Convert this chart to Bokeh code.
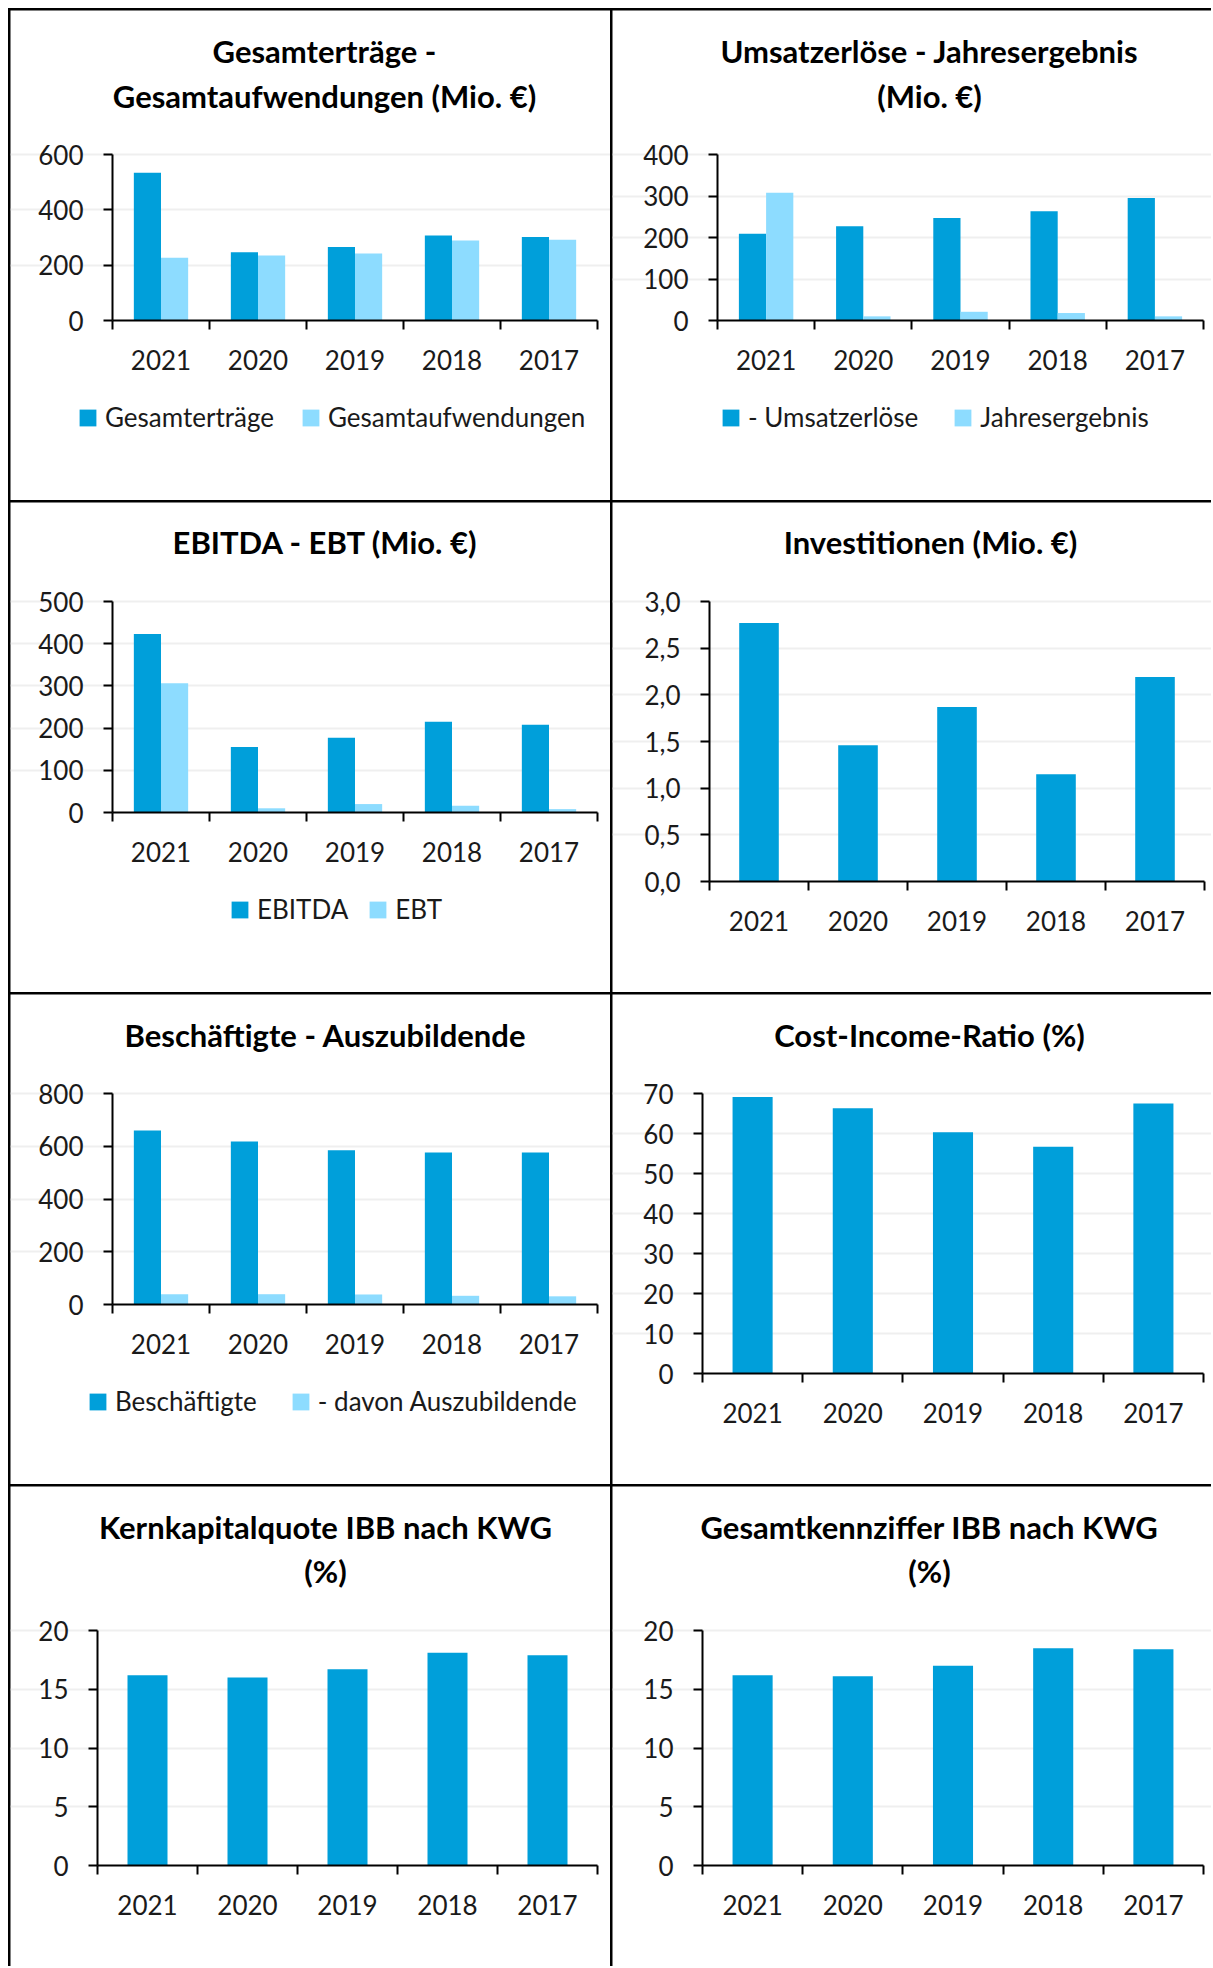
from bokeh.plotting import figure
from bokeh.models import (Range1d, LinearAxis, FixedTicker, Legend, LegendItem, Label, Grid,
                          CustomJSTickFormatter, Spacer, Row, Column, ColumnDataSource)
from bokeh.transform import dodge
from bokeh.embed import file_html
from bokeh.resources import INLINE

# ---------------- data ----------------
years = ["2021", "2020", "2019", "2018", "2017"]

gesamtertraege = [534, 247, 266, 307, 302]
gesamtaufwendungen = [227, 235, 242, 289, 292]

umsatzerloese = [209, 227, 247, 263, 295]
jahresergebnis = [308, 10, 21, 18, 10]

ebitda = [423, 155, 177, 215, 208]
ebt = [306, 10, 20, 16, 8]

investitionen = [2.77, 1.46, 1.87, 1.15, 2.19]

beschaeftigte = [660, 618, 585, 576, 576]
auszubildende = [39, 39, 38, 33, 31]

cost_income_ratio = [69.1, 66.3, 60.3, 56.7, 67.5]

kernkapitalquote = [16.2, 16.0, 16.7, 18.1, 17.9]
gesamtkennziffer = [16.2, 16.1, 17.0, 18.5, 18.4]

ticks_ertraege = [0, 200, 400, 600]
ticks_umsatz = [0, 100, 200, 300, 400]
ticks_ebitda = [0, 100, 200, 300, 400, 500]
ticks_invest = [0, 0.5, 1.0, 1.5, 2.0, 2.5, 3.0]
ticks_besch = [0, 200, 400, 600, 800]
ticks_cir = [0, 10, 20, 30, 40, 50, 60, 70]
ticks_quote = [0, 5, 10, 15, 20]

# ---------------- style ----------------
DARK = "#009FDA"
LIGHT = "#8DDCFF"
FONT = "Lato"
TXT = "#1a1a1a"
TICK_FS = "26px"
LEG_FS = "26px"
TITLE_FS = "31px"

N = len(years)
slot_centers = [i + 0.5 for i in range(N)]      # category slot centres on the x scale
slot_edges = [i for i in range(N + 1)]           # category boundaries (tick marks)


def make_chart(width, height, box, title_lines, title_cx, title_ys, series, yticks,
               legend_spec=None, decimal=False):
    """box = (left, right, top, zero) pixel layout of the plotting area inside the cell."""
    left, right, top, zero = box
    ymax = yticks[-1]
    sx = (right - left) / float(N)
    sy = (zero - top) / float(ymax)
    xr = Range1d(-left / sx, N + (width - right) / sx)
    yr = Range1d(-(height - zero) / sy, ymax + top / sy)

    p = figure(width=width, height=height, x_range=xr, y_range=yr,
               x_axis_location=None, y_axis_location=None,
               output_backend="svg", toolbar_location=None, min_border=0)
    p.outline_line_color = None
    p.background_fill_color = "white"
    p.border_fill_color = "white"
    p.xgrid.visible = False
    p.ygrid.visible = False

    # horizontal grid lines
    grid = Grid(dimension=1, ticker=FixedTicker(ticks=yticks[1:]), bounds=(0, N),
                grid_line_color="#EFEFEF", grid_line_width=2)
    p.add_layout(grid, "center")

    # y axis
    yax = LinearAxis(fixed_location=0, bounds=(0, ymax), ticker=FixedTicker(ticks=yticks))
    yax.minor_tick_line_color = None
    yax.major_tick_out = 9
    yax.major_tick_in = 0
    yax.major_tick_line_width = 2
    yax.major_tick_line_color = "black"
    yax.axis_line_width = 2
    yax.axis_line_color = "black"
    yax.major_label_standoff = 20
    yax.major_label_text_font = FONT
    yax.major_label_text_font_size = TICK_FS
    yax.major_label_text_color = TXT
    if decimal:
        yax.formatter = CustomJSTickFormatter(code="return tick.toFixed(1).replace('.', ',');")
    p.add_layout(yax, "left")

    # x axis: labels at slot centres, tick marks (minor ticks) at slot boundaries
    xax = LinearAxis(fixed_location=0, bounds=(0, N),
                     ticker=FixedTicker(ticks=slot_centers, minor_ticks=slot_edges),
                     formatter=CustomJSTickFormatter(args=dict(labels=years),
                                                     code="return labels[Math.floor(tick)];"))
    xax.axis_line_width = 2
    xax.axis_line_color = "black"
    xax.major_tick_line_color = None
    xax.major_tick_out = 9
    xax.major_tick_in = 0
    xax.minor_tick_out = 9
    xax.minor_tick_in = 0
    xax.minor_tick_line_width = 2
    xax.minor_tick_line_color = "black"
    xax.major_label_standoff = 20
    xax.major_label_text_font = FONT
    xax.major_label_text_font_size = TICK_FS
    xax.major_label_text_color = TXT
    p.add_layout(xax, "below")

    # bars
    data = {"pos": slot_centers, "year": years}
    for i, (vals, _lab) in enumerate(series):
        data["s%d" % i] = vals
    src = ColumnDataSource(data)
    renderers = []
    if len(series) == 2:
        w = 0.28
        offs = [-0.14, 0.14]
        cols = [DARK, LIGHT]
    else:
        w = 0.4
        offs = [0.0]
        cols = [DARK]
    for i, (vals, lab) in enumerate(series):
        r = p.vbar(x=dodge("pos", offs[i]), top="s%d" % i, width=w,
                   bottom=0, source=src, fill_color=cols[i], line_color=None)
        renderers.append((lab, r))

    # title
    for line, ty in zip(title_lines, title_ys):
        p.add_layout(Label(x=(title_cx - left) / sx, y=ymax + (top - ty) / sy,
                           text=line, text_align="center", text_baseline="middle",
                           text_font=FONT, text_font_style="bold", text_font_size=TITLE_FS,
                           text_color="black"))

    # legend
    if legend_spec is not None:
        lx, lspacing = legend_spec
        row_h = 31
        ly = height - (407.5 + row_h / 2.0)
        leg = Legend(items=[LegendItem(label=lab, renderers=[r]) for lab, r in renderers],
                     orientation="horizontal", location=(lx, ly),
                     glyph_width=21, glyph_height=21, label_standoff=7,
                     spacing=int(lspacing), padding=0, margin=0,
                     border_line_color=None, background_fill_alpha=0,
                     label_text_font=FONT, label_text_font_size=LEG_FS,
                     label_text_color=TXT, label_height=row_h)
        p.add_layout(leg, "center")
    return p


WL, WR = 600, 599
H1, H4 = 490, 480

c1 = make_chart(WL, H1, (102, 587, 144, 310), ["Gesamterträge -", "Gesamtaufwendungen (Mio. €)"],
                314, [40, 85.3],
                [(gesamtertraege, "Gesamterträge"), (gesamtaufwendungen, "Gesamtaufwendungen")],
                ticks_ertraege, legend_spec=(67, 26))
c2 = make_chart(WR, H1, (105, 591, 144, 310), ["Umsatzerlöse - Jahresergebnis", "(Mio. €)"],
                317, [40, 85.3],
                [(umsatzerloese, "- Umsatzerlöse"), (jahresergebnis, "Jahresergebnis")],
                ticks_umsatz, legend_spec=(108, 34))
c3 = make_chart(WL, H1, (102, 587, 99, 310), ["EBITDA - EBT (Mio. €)"], 315, [39.1],
                [(ebitda, "EBITDA"), (ebt, "EBT")], ticks_ebitda, legend_spec=(219, 19))
c4 = make_chart(WR, H1, (97, 592, 99, 379), ["Investitionen (Mio. €)"], 318, [39.1],
                [(investitionen, "Investitionen")], ticks_invest, decimal=True)
c5 = make_chart(WL, H1, (102, 587, 99, 310), ["Beschäftigte - Auszubildende"], 315, [40.6],
                [(beschaeftigte, "Beschäftigte"), (auszubildende, "- davon Auszubildende")],
                ticks_besch, legend_spec=(77, 33))
c6 = make_chart(WR, H1, (90, 591, 99, 379), ["Cost-Income-Ratio (%)"], 317, [40.6],
                [(cost_income_ratio, "Cost-Income-Ratio")], ticks_cir)
c7 = make_chart(WL, H4, (87, 587, 144, 379), ["Kernkapitalquote IBB nach KWG", "(%)"], 315, [40.8, 84.8],
                [(kernkapitalquote, "Kernkapitalquote")], ticks_quote)
c8 = make_chart(WR, H4, (90, 591, 144, 379), ["Gesamtkennziffer IBB nach KWG", "(%)"], 317, [40.8, 84.8],
                [(gesamtkennziffer, "Gesamtkennziffer")], ticks_quote)

BG = {"background-color": "black"}


def mkrow(a, b):
    return Row(children=[Spacer(width=0, height=a.height), a, b], spacing=2, styles=BG)


grid_layout = Column(children=[Spacer(width=WL + WR + 4, height=0), mkrow(c1, c2), mkrow(c3, c4),
                               mkrow(c5, c6), mkrow(c7, c8)], spacing=2, styles=BG)
page = Column(children=[Spacer(width=WL + WR + 12, height=8),
                        Row(children=[Spacer(width=8, height=10), grid_layout])])

open("out.html", "w").write(file_html(page, INLINE))
